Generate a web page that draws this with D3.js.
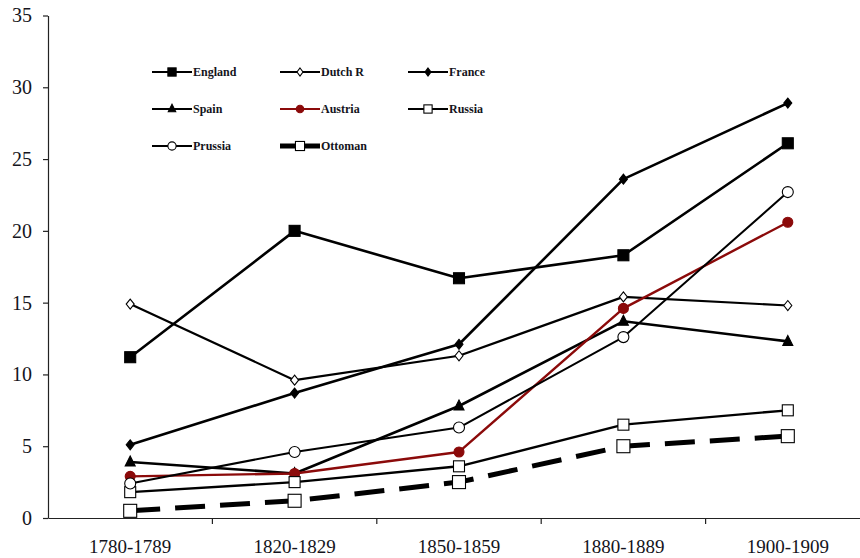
<!DOCTYPE html>
<html>
<head>
<meta charset="utf-8">
<script src="https://cdn.jsdelivr.net/npm/d3@7"></script>
<style>
  body { margin: 0; background: #fff; }
  svg { display: block; }
  text { font-family: "Liberation Serif", "Times New Roman", serif; fill: #141420; }
</style>
</head>
<body>
<svg id="chart"></svg>
<script>
// Decades on the x axis
const periods = ['1780-1789', '1820-1829', '1850-1859', '1880-1889', '1900-1909'];
const yTicks = [0, 5, 10, 15, 20, 25, 30, 35];

// Series values
const england  = [11.2, 20.0, 16.7, 18.3, 26.1];
const dutchR   = [14.9,  9.6, 11.3, 15.4, 14.8];
const france   = [ 5.1,  8.7, 12.1, 23.6, 28.9];
const spain    = [ 3.9,  3.1,  7.8, 13.7, 12.3];
const austria  = [ 2.9,  3.1,  4.6, 14.6, 20.6];
const russia   = [ 1.8,  2.5,  3.6,  6.5,  7.5];
const prussia  = [ 2.4,  4.6,  6.3, 12.6, 22.7];
const ottoman  = [ 0.5,  1.2,  2.5,  5.0,  5.7];

const seriesNames = ['England', 'Dutch R', 'France', 'Spain', 'Austria', 'Russia', 'Prussia', 'Ottoman'];
const seriesValues = [england, dutchR, france, spain, austria, russia, prussia, ottoman];

// Drawing style per series
const styles = {
  'England': {color: '#000', width: 2.6, marker: 'square', size: 11, fill: '#000'},
  'Dutch R': {color: '#000', width: 2.2, marker: 'diamond', size: 8, fill: '#fff'},
  'France':  {color: '#000', width: 2.6, marker: 'diamond', size: 8, fill: '#000'},
  'Spain':   {color: '#000', width: 2.6, marker: 'triangle', size: 10, fill: '#000'},
  'Austria': {color: '#8b0a0a', width: 2.4, marker: 'circle', size: 10, fill: '#8b0a0a'},
  'Russia':  {color: '#000', width: 2.4, marker: 'osquare', size: 11, fill: '#fff'},
  'Prussia': {color: '#000', width: 2.0, marker: 'circle', size: 11, fill: '#fff'},
  'Ottoman': {color: '#000', width: 5, marker: 'osquare', size: 13, fill: '#fff', dash: '30,15'}
};

const width = 860, height = 558;
const margin = {top: 15.5, left: 48, bottom: 40};
const plotRight = 870; // chart runs past the right edge of the picture

const svg = d3.select('#chart')
  .attr('width', width)
  .attr('height', height);

const xScale = d3.scaleBand()
  .domain(periods)
  .range([margin.left, plotRight])
  .padding(0);

const yScale = d3.scaleLinear()
  .domain([0, 35])
  .range([height - margin.bottom, margin.top]);

// y axis
const yAxis = d3.axisLeft(yScale)
  .tickValues(yTicks)
  .tickSize(5)
  .tickSizeOuter(0)
  .tickPadding(11);

const yAxisG = svg.append('g')
  .attr('transform', `translate(${margin.left},0)`)
  .call(yAxis);
yAxisG.select('.domain').attr('stroke', '#222').attr('stroke-width', 1.2);
yAxisG.selectAll('.tick line').attr('stroke', '#222').attr('stroke-width', 1.2);
yAxisG.selectAll('.tick text')
  .style('font-size', '20px')
  .attr('fill', '#141420');

// x axis, labels centred in bands, ticks on band boundaries
const xAxis = d3.axisBottom(xScale)
  .tickSize(0)
  .tickSizeOuter(0)
  .tickPadding(22);

const xAxisG = svg.append('g')
  .attr('transform', `translate(0,${yScale(0)})`)
  .call(xAxis);
xAxisG.select('.domain').attr('stroke', '#222').attr('stroke-width', 1.2);
xAxisG.selectAll('.tick text')
  .style('font-size', '19px')
  .attr('fill', '#141420');

xAxisG.selectAll('.band-tick')
  .data(periods.slice(1))
  .join('line')
    .attr('class', 'band-tick')
    .attr('x1', d => xScale(d))
    .attr('x2', d => xScale(d))
    .attr('y1', 0)
    .attr('y2', 6)
    .attr('stroke', '#222')
    .attr('stroke-width', 1.2);

// marker drawing
function drawMarker(g, st, cx, cy, scale) {
  const s = st.size * (scale || 1);
  const h = s / 2;
  let m;
  if (st.marker === 'square' || st.marker === 'osquare') {
    m = g.append('rect')
      .attr('x', cx - h).attr('y', cy - h)
      .attr('width', s).attr('height', s);
  } else if (st.marker === 'circle') {
    m = g.append('circle').attr('cx', cx).attr('cy', cy).attr('r', h);
  } else if (st.marker === 'diamond') {
    m = g.append('path')
      .attr('d', `M${cx},${cy - h - 1}L${cx + h},${cy}L${cx},${cy + h + 1}L${cx - h},${cy}Z`);
  } else if (st.marker === 'triangle') {
    m = g.append('path')
      .attr('d', `M${cx},${cy - h - 1}L${cx + h},${cy + h - 1}L${cx - h},${cy + h - 1}Z`);
  }
  m.attr('fill', st.fill)
    .attr('stroke', st.marker === 'circle' && st.fill !== '#fff' ? st.color : '#000')
    .attr('stroke-width', 1.1);
}

const line = d3.line()
  .x((d, i) => xScale(periods[i]) + xScale.bandwidth() / 2)
  .y(d => yScale(d));

const plot = svg.append('g');

seriesNames.forEach((name, k) => {
  const st = styles[name];
  const vals = seriesValues[k];
  const g = plot.append('g').attr('class', 'series');
  g.append('path')
    .datum(vals)
    .attr('d', line)
    .attr('fill', 'none')
    .attr('stroke', st.color)
    .attr('stroke-width', st.width)
    .attr('stroke-dasharray', st.dash || null)
    .attr('stroke-linejoin', 'round');
  vals.forEach((v, i) => {
    drawMarker(g, st, xScale(periods[i]) + xScale.bandwidth() / 2, yScale(v));
  });
});

// legend, three columns
const legendCols = [152, 280, 408];
const legendRows = [72, 109, 146];
const legend = svg.append('g').attr('class', 'legend');

seriesNames.forEach((name, k) => {
  const st = styles[name];
  const lx = legendCols[k % 3];
  const ly = legendRows[Math.floor(k / 3)];
  const g = legend.append('g');
  g.append('line')
    .attr('x1', lx).attr('x2', lx + 40)
    .attr('y1', ly).attr('y2', ly)
    .attr('stroke', st.color)
    .attr('stroke-width', name === 'Ottoman' ? 5 : 2.2);
  drawMarker(g, st, lx + 20, ly, name === 'Ottoman' ? 0.7 : 0.75);
  g.append('text')
    .attr('x', lx + 41)
    .attr('y', ly + 4)
    .style('font-size', '12px')
    .style('font-weight', 'bold')
    .text(name);
});
</script>
</body>
</html>
